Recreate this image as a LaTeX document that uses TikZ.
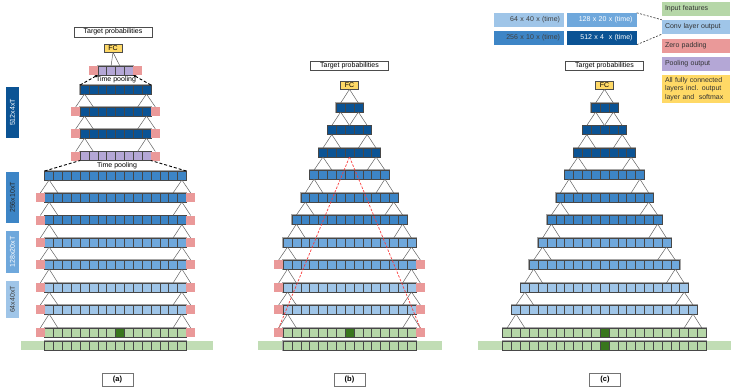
\documentclass[tikz,border=0pt]{standalone}
\usepackage{fontspec}
\setmainfont{Liberation Sans}
\usetikzlibrary{arrows.meta}
\definecolor{cA}{HTML}{0B5394}
\definecolor{cB}{HTML}{3D85C6}
\definecolor{cC}{HTML}{6FA8DC}
\definecolor{cD}{HTML}{9FC5E8}
\definecolor{cG}{HTML}{B6D7A8}
\definecolor{cGd}{HTML}{38761D}
\definecolor{cP}{HTML}{EA9999}
\definecolor{cU}{HTML}{B4A7D6}
\definecolor{cY}{HTML}{FFD966}
\definecolor{cRed}{RGB}{250,60,60}
\def\cellw{8.85}
% #1 name, #2 centre x, #3 centre y, #4 cells, #5 colour, #6 pads (0/1), #7 dark cell index (0 none)
\newcommand\cnnrow[7]{%
  \draw[rowframe] ({#2-#4/2*\cellw},{#3-4.5}) rectangle ({#2+#4/2*\cellw},{#3+4.5});
  \foreach \i in {1,...,#4}{%
    \ifnum\i=#7\relax\def\cellcol{cGd}\else\def\cellcol{#5}\fi
    \node[cellbox, fill=\cellcol] (#1-\i) at ({#2+(\i-(#4+1)/2)*\cellw},#3) {};
  }%
  \ifnum#6=1\relax
    \pgfmathtruncatemacro\padlast{#4+1}%
    \node[padbox] (#1-0) at ({#2-(#4+1)/2*\cellw},#3) {};
    \node[padbox] (#1-\padlast) at ({#2+(#4+1)/2*\cellw},#3) {};
  \fi
}
\newcommand\tri[3]{\draw[triline] (#1.south) -- (#2.north) (#1.south) -- (#3.north);}
\begin{document}
\begin{tikzpicture}[x=1pt,y=-1pt,
  font=\fontsize{7}{8.4}\selectfont,
  cellbox/.style={draw=black!72, line width=0.5pt, minimum width=\cellw pt, minimum height=9pt, inner sep=0pt, outer sep=0pt},
  padbox/.style={fill=cP, draw=none, minimum width=\cellw pt, minimum height=9pt, inner sep=0pt, outer sep=0pt},
  rowframe/.style={draw=black!35, line width=1.6pt},
  triline/.style={draw=black!62, line width=0.5pt},
  pooldash/.style={draw=black, line width=0.9pt, dash pattern=on 3pt off 2pt},
  reddash/.style={draw=cRed, line width=0.7pt, dash pattern=on 2.5pt off 1.5pt},
  legdash/.style={draw=black!80, line width=0.6pt, dash pattern=on 2pt off 1.5pt},
  tgtbox/.style={draw=black!70, line width=0.6pt, minimum width=78pt, minimum height=9.5pt, inner sep=0pt},
  fcbox/.style={draw=black!70, fill=cY, line width=0.6pt, minimum width=18pt, minimum height=8pt, inner sep=0pt},
  labbox/.style={draw=black!55, line width=0.8pt, minimum width=31pt, minimum height=13pt, inner sep=0pt, font=\fontsize{7.5}{9}\selectfont\bfseries},
  sidebox/.style={rotate=90, minimum height=13pt, inner sep=0pt},
  legbox/.style={minimum height=14pt, text width=62pt, align=right, inner xsep=4pt, inner ysep=0pt},
  legrbox/.style={minimum height=14pt, text width=62pt, align=left, inner xsep=3pt, inner ysep=0pt, text=black!80},
  inbar/.style={fill=cG!85!white}
]
\useasboundingbox (0,0) rectangle (731,389);

% ---------------- legend ----------------
\node[legbox, fill=cD, text=black!75] (l64) at (529,20) {64 x 40 x (time)};
\node[legbox, fill=cC, text=white] (l128) at (601.5,20) {128 x 20 x (time)};
\node[legbox, fill=cB, text=black!75] (l256) at (529,37.5) {256 x 10 x (time)};
\node[legbox, fill=cA, text=white] (l512) at (601.5,37.5) {512 x 4 \ x (time)};
\node[legrbox, fill=cG] (lin) at (696,9) {Input features};
\node[legrbox, fill=cD] (lconv) at (696,27) {Conv layer output};
\node[legrbox, fill=cP] (lpad) at (696,46) {Zero padding};
\node[legrbox, fill=cU] (lpool) at (696,64) {Pooling output};
\node[legrbox, fill=cY, minimum height=28pt, inner ysep=1pt] (lfc) at (696,89) {All fully connected\\layers incl. output\\layer and \ softmax};
\draw[legdash] (l128.north east) -- (lconv.north west);
\draw[legdash] (l512.south east) -- (lconv.south west);

% ---------------- side labels ----------------
\node[sidebox, fill=cA, text=white, minimum width=51pt] (s512) at (12.5,112.5) {512x4xT};
\node[sidebox, fill=cB, text=black!85, minimum width=51pt] (s256) at (12.5,197.5) {256x10xT};
\node[sidebox, fill=cC, text=white, minimum width=42pt] (s128) at (12.5,252) {128x20xT};
\node[sidebox, fill=cD, text=black!75, minimum width=37pt] (s64) at (12.5,299.5) {64x40xT};

% ================= panel (a) =================
\node[tgtbox, minimum height=10pt] (ta) at (113,32) {Target probabilities};
\node[fcbox] (fca) at (113,48) {FC};
\fill[inbar] (21,341) rectangle (213,350);
\cnnrow{a1}{115.5}{70.5}{4}{cU}{1}{0}
\cnnrow{a2}{115.5}{89.5}{8}{cA}{0}{0}
\cnnrow{a3}{115.5}{111.5}{8}{cA}{1}{0}
\cnnrow{a4}{115.5}{133.5}{8}{cA}{1}{0}
\cnnrow{a5}{115.5}{156}{8}{cU}{1}{0}
\cnnrow{a6}{115.5}{175.5}{16}{cB}{0}{0}
\cnnrow{a7}{115.5}{197.5}{16}{cB}{1}{0}
\cnnrow{a8}{115.5}{220}{16}{cB}{1}{0}
\cnnrow{a9}{115.5}{242.5}{16}{cC}{1}{0}
\cnnrow{a10}{115.5}{264.5}{16}{cC}{1}{0}
\cnnrow{a11}{115.5}{287.5}{16}{cD}{1}{0}
\cnnrow{a12}{115.5}{309.5}{16}{cD}{1}{0}
\cnnrow{a13}{115.5}{332.5}{16}{cG}{1}{9}
\cnnrow{a14}{115.5}{345.5}{16}{cG}{0}{0}
\draw[triline] (fca.south) -- (a1-2.north) (fca.south) -- (a1-3.north);
\foreach \u/\l in {2/3,3/4,4/5}{\tri{a\u-1}{a\l-0}{a\l-2}\tri{a\u-8}{a\l-7}{a\l-9}}
\foreach \u/\l in {6/7,7/8,8/9,9/10,10/11,11/12,12/13}{\tri{a\u-1}{a\l-0}{a\l-2}\tri{a\u-16}{a\l-15}{a\l-17}}
\draw[pooldash, -{Stealth[length=3pt,width=3pt]}] (a2-1.north west) -- (a1-1.south west);
\draw[pooldash, -{Stealth[length=3pt,width=3pt]}] (a2-8.north east) -- (a1-4.south east);
\draw[pooldash] (a6-1.north west) -- (a5-1.south west);
\draw[pooldash] (a6-16.north east) -- (a5-8.south east);
\node (tp1) at (116,80) {Time pooling};
\node (tp2) at (117,166) {Time pooling};
\node[labbox] (la) at (117.5,379.5) {(a)};

% ================= panel (b) =================
\node[tgtbox] (tb) at (349.5,66) {Target probabilities};
\node[fcbox] (fcb) at (349.5,85) {FC};
\fill[inbar] (258,341) rectangle (442,350);
\cnnrow{b1}{349.5}{107.5}{3}{cA}{0}{0}
\cnnrow{b2}{349.5}{130}{5}{cA}{0}{0}
\cnnrow{b3}{349.5}{152.5}{7}{cA}{0}{0}
\cnnrow{b4}{349.5}{174.5}{9}{cB}{0}{0}
\cnnrow{b5}{349.5}{197.5}{11}{cB}{0}{0}
\cnnrow{b6}{349.5}{219.5}{13}{cB}{0}{0}
\cnnrow{b7}{349.5}{242.5}{15}{cC}{0}{0}
\cnnrow{b8}{349.5}{264.5}{15}{cC}{1}{0}
\cnnrow{b9}{349.5}{287.5}{15}{cD}{1}{0}
\cnnrow{b10}{349.5}{309.5}{15}{cD}{1}{0}
\cnnrow{b11}{349.5}{332.5}{15}{cG}{1}{8}
\cnnrow{b12}{349.5}{345.5}{15}{cG}{0}{0}
\draw[triline] (fcb.south) -- (b1-1.north) (fcb.south) -- (b1-3.north);
\foreach \u/\l/\n/\m in {1/2/3/5,2/3/5/7,3/4/7/9,4/5/9/11,5/6/11/13,6/7/13/15}{\tri{b\u-1}{b\l-1}{b\l-3}\tri{b\u-\n}{b\l-\n}{b\l-\m}}
\foreach \u/\l in {7/8,8/9,9/10,10/11}{\tri{b\u-1}{b\l-0}{b\l-2}\tri{b\u-15}{b\l-14}{b\l-16}}
\draw[reddash] (b3-4.south) -- (b11-0.north);
\draw[reddash] (b3-4.south) -- (b11-16.north);
\node[labbox] (lb) at (349.5,379.5) {(b)};

% ================= panel (c) =================
\node[tgtbox] (tc) at (604.5,66) {Target probabilities};
\node[fcbox] (fcc) at (604.5,85) {FC};
\fill[inbar] (478,341) rectangle (731,350);
\cnnrow{c1}{604.5}{107.5}{3}{cA}{0}{0}
\cnnrow{c2}{604.5}{130}{5}{cA}{0}{0}
\cnnrow{c3}{604.5}{152.5}{7}{cA}{0}{0}
\cnnrow{c4}{604.5}{174.5}{9}{cB}{0}{0}
\cnnrow{c5}{604.5}{197.5}{11}{cB}{0}{0}
\cnnrow{c6}{604.5}{219.5}{13}{cB}{0}{0}
\cnnrow{c7}{604.5}{242.5}{15}{cC}{0}{0}
\cnnrow{c8}{604.5}{264.5}{17}{cC}{0}{0}
\cnnrow{c9}{604.5}{287.5}{19}{cD}{0}{0}
\cnnrow{c10}{604.5}{309.5}{21}{cD}{0}{0}
\cnnrow{c11}{604.5}{332.5}{23}{cG}{0}{12}
\cnnrow{c12}{604.5}{345.5}{23}{cG}{0}{12}
\draw[triline] (fcc.south) -- (c1-1.north) (fcc.south) -- (c1-3.north);
\foreach \u/\l/\n/\m in {1/2/3/5,2/3/5/7,3/4/7/9,4/5/9/11,5/6/11/13,6/7/13/15,7/8/15/17,8/9/17/19,9/10/19/21,10/11/21/23}{\tri{c\u-1}{c\l-1}{c\l-3}\tri{c\u-\n}{c\l-\n}{c\l-\m}}
\node[labbox] (lc) at (605,379.5) {(c)};
\end{tikzpicture}
\end{document}
